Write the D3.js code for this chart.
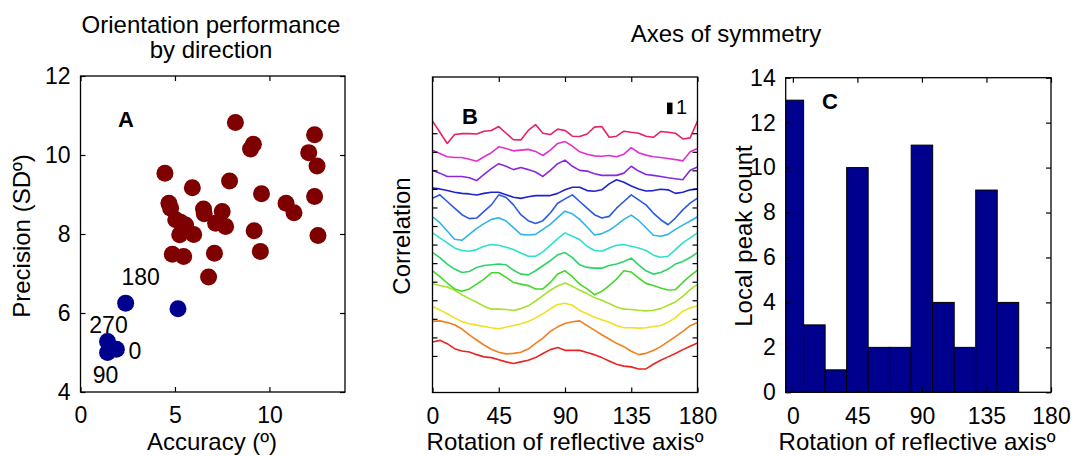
<!DOCTYPE html>
<html lang="en">
<head>
<meta charset="UTF-8">
<title>Orientation performance and axes of symmetry</title>
<script src="https://d3js.org/d3.v7.min.js"></script>
<style>
  body { margin: 0; background: #fff; }
  svg { display: block; font-family: "Liberation Sans", Arial, sans-serif; }
  .tick text { font-size: 23px; fill: #000; }
  .domain { display: none; }
  .tick line { stroke: #000; stroke-width: 1.2; }
  .lbl { font-size: 24px; fill: #000; }
  .panel { font-size: 22px; font-weight: bold; }
</style>
</head>
<body>
<div id="chart"></div>
<script>
// ---- A: accuracy vs precision per direction ----
const accRed = [8.2, 12.39, 9.0, 9.15, 12.08, 12.52, 4.47, 7.89, 5.92, 9.58, 12.39, 4.68, 4.77, 6.51, 6.55, 7.5,
  10.88, 11.3, 5.04, 5.3, 5.56, 7.15, 7.68, 5.25, 5.99, 9.19, 12.57, 4.86, 5.46, 7.09, 9.52, 6.78];
const precRed = [10.82, 10.51, 10.15, 10.27, 10.06, 9.72, 9.54, 9.34, 9.17, 9.02, 8.95, 8.78, 8.65, 8.63, 8.51, 8.57,
  8.78, 8.54, 8.36, 8.3, 8.23, 8.27, 8.19, 7.98, 7.99, 8.08, 7.96, 7.49, 7.43, 7.51, 7.56, 6.91];
const accBlue = [2.39, 5.16, 1.43, 1.9, 1.43];
const precBlue = [6.25, 6.11, 5.28, 5.08, 5.0];
const blueNames = ["180", "", "270", "0", "90"];

// ---- B: correlation vs rotation, one curve per row (bottom to top) ----
const angles = d3.range(0, 181, 5);
const corr = [
  [0.75,0.84,0.66,0.39,0.27,0.21,0.07,-0.05,-0.09,-0.2,-0.32,-0.41,-0.32,-0.23,-0.09,0.13,0.34,0.45,0.3,0.3,0.3,0.18,0.07,-0.09,-0.27,-0.45,-0.55,-0.59,-0.7,-0.7,-0.45,-0.23,-0.05,0.13,0.34,0.52,0.7],
  [0.86,0.89,0.8,0.68,0.45,0.14,-0.14,-0.41,-0.64,-0.8,-0.89,-0.86,-0.8,-0.63,-0.32,-0.04,0.32,0.57,0.75,0.84,0.89,0.63,0.39,0.14,-0.09,-0.32,-0.5,-0.75,-0.93,-0.86,-0.71,-0.5,-0.23,0.04,0.32,0.63,0.8],
  [0.66,0.48,0.27,0.05,-0.14,-0.27,-0.34,-0.41,-0.48,-0.54,-0.45,-0.36,-0.27,-0.14,0.05,0.27,0.54,0.77,0.84,0.73,0.45,0.27,0.09,-0.05,-0.18,-0.36,-0.48,-0.48,-0.5,-0.48,-0.41,-0.36,-0.18,0.05,0.41,0.59,0.71],
  [0.89,0.8,0.71,0.54,0.3,0.09,-0.11,-0.32,-0.48,-0.48,-0.5,-0.55,-0.45,-0.3,-0.04,0.25,0.54,0.77,0.93,0.75,0.54,0.36,0.14,0,-0.18,-0.36,-0.48,-0.5,-0.54,-0.57,-0.54,-0.45,-0.27,-0.09,0.21,0.57,0.86],
  [0.59,0.27,-0.07,-0.39,-0.52,-0.39,-0.13,0.14,0.48,0.48,0.23,-0.04,-0.13,-0.21,-0.39,-0.39,-0.04,0.41,0.59,0.27,-0.13,-0.39,-0.7,-0.52,-0.21,0.14,0.59,0.52,0.2,-0.09,-0.21,-0.34,-0.45,-0.43,-0.04,0.32,0.63],
  [0.57,0.3,-0.05,-0.32,-0.5,-0.45,-0.23,-0.13,-0.09,-0.05,-0.09,-0.38,-0.59,-0.63,-0.41,-0.14,0.13,0.45,0.57,0.3,-0.09,-0.23,-0.27,-0.27,-0.13,-0.05,0.09,0.27,-0.09,-0.41,-0.59,-0.5,-0.32,-0.05,0.09,0.3,0.57],
  [0.63,0.36,0.09,-0.18,-0.32,-0.36,-0.27,-0.09,0,-0.04,-0.14,-0.27,-0.45,-0.63,-0.63,-0.39,-0.04,0.32,0.63,0.45,0.27,-0.09,-0.32,-0.36,-0.18,-0.04,0,-0.09,-0.18,-0.32,-0.57,-0.68,-0.63,-0.27,0.09,0.36,0.63],
  [0.5,0.18,-0.27,-0.71,-0.77,-0.45,-0.13,0.13,0.36,0.45,0.27,-0.09,-0.45,-0.48,-0.45,-0.18,0.09,0.45,0.8,0.66,0.36,-0.05,-0.48,-0.41,-0.23,0.05,0.36,0.59,0.3,-0.09,-0.5,-0.55,-0.45,-0.18,0.05,0.27,0.5],
  [0.5,0.68,0.32,-0.04,-0.39,-0.6,-0.57,-0.21,0.14,0.68,0.54,0.14,-0.39,-0.71,-0.86,-0.71,-0.3,0.23,0.46,0.68,0.32,-0.04,-0.39,-0.57,-0.48,-0.04,0.32,0.68,0.41,0.14,-0.3,-0.66,-0.93,-0.57,-0.13,0.23,0.5],
  [0.05,0,-0.09,-0.18,-0.24,-0.27,-0.33,-0.24,-0.18,-0.18,-0.31,-0.45,-0.51,-0.42,-0.36,-0.36,-0.36,-0.24,-0.05,0.09,0.09,-0.09,-0.13,-0.05,0.27,0.49,0.36,0.16,0,-0.11,-0.09,-0.02,-0.05,-0.24,-0.18,-0.05,0],
  [0,-0.15,-0.33,-0.33,-0.33,-0.4,-0.55,-0.22,0.09,0.36,0.22,0.04,0.15,0.04,-0.09,-0.33,0,0.36,0.55,0.22,0,-0.04,-0.18,-0.27,-0.27,-0.27,-0.15,0.22,-0.04,-0.22,-0.27,-0.33,-0.4,-0.45,-0.51,0,0.18],
  [0.09,-0.09,-0.27,-0.31,-0.31,-0.4,-0.51,-0.27,-0.05,0.27,0.18,0.05,0.09,0.13,0.02,-0.2,0.09,0.45,0.55,0.31,0,-0.13,-0.22,-0.24,-0.2,-0.27,-0.13,0.22,-0.05,-0.18,-0.27,-0.31,-0.36,-0.42,-0.49,0,0.18],
  [0.65,0.05,-0.55,-0.07,-0.02,-0.02,-0.04,0.11,0.15,0.36,0,-0.35,-0.36,0.15,0.47,0,-0.07,0.22,0.15,-0.16,-0.18,-0.04,0.33,0.36,-0.22,-0.16,0.11,0.05,0,-0.16,-0.22,0.09,0.05,0,-0.31,-0.25,0.65]
];
const curveColors = ["#e82424", "#f0801e", "#f0e020", "#a8e02c", "#44d82c", "#2cd468", "#2ee0cc",
  "#2cb4ee", "#2a5ae0", "#2222cc", "#8a28e0", "#e030d4", "#e8206a"];
const scaleBarUnits = 0.62;

// ---- C: local peak histogram ----
const binCenters = [0, 15, 30, 45, 60, 75, 90, 105, 120, 135, 150];
const peakCounts = [13, 3, 1, 10, 2, 2, 11, 4, 2, 9, 4];
const binWidth = 15;

const svg = d3.select("#chart").append("svg").attr("width", 1076).attr("height", 456);

// draw a matlab-like box with inward ticks on all four sides
function frame(x, y, xt, yt, labelX, labelY, padX, padY) {
  const [x0, x1] = x.range(), [y0, y1] = y.range();
  const g = svg.append("g");
  g.append("g").attr("transform", `translate(0,${y0})`)
    .call(d3.axisBottom(x).tickValues(xt).tickSizeInner(-5).tickSizeOuter(0).tickPadding(padX)
      .tickFormat(labelX ? d3.format("d") : ""));
  g.append("g").attr("transform", `translate(0,${y1})`)
    .call(d3.axisTop(x).tickValues(xt).tickSizeInner(-5).tickSizeOuter(0).tickFormat(""));
  g.append("g").attr("transform", `translate(${x0},0)`)
    .call(d3.axisLeft(y).tickValues(yt).tickSizeInner(-5).tickSizeOuter(0).tickPadding(padY)
      .tickFormat(labelY ? d3.format("d") : ""));
  g.append("g").attr("transform", `translate(${x1},0)`)
    .call(d3.axisRight(y).tickValues(yt).tickSizeInner(-5).tickSizeOuter(0).tickFormat(""));
  g.append("rect").attr("x", x0).attr("y", y1).attr("width", x1 - x0).attr("height", y0 - y1)
    .attr("fill", "none").attr("stroke", "#000").attr("stroke-width", 1.3);
  return g;
}

// ---------- panel A ----------
const xA = d3.scaleLinear([0, 14], [80.5, 345]);
const yA = d3.scaleLinear([4, 12], [392, 76]);

const dotsA = svg.append("g");
dotsA.selectAll(".r").data(accRed).join("circle")
  .attr("cx", d => xA(d)).attr("cy", (d, i) => yA(precRed[i])).attr("r", 8.5).attr("fill", "#7f0000");
dotsA.selectAll(".b").data(accBlue).join("circle")
  .attr("cx", d => xA(d)).attr("cy", (d, i) => yA(precBlue[i])).attr("r", 8.5).attr("fill", "#00008f");

frame(xA, yA, [0, 5, 10], [4, 6, 8, 10, 12], true, true, 15, 10);

// direction labels, offset from their point
const nameOff = [[15, -18, "middle"], [0, 0, "middle"], [1, -8, "middle"], [12, 10, "start"], [-2, 30, "middle"]];
svg.append("g").selectAll("text").data(blueNames).join("text")
  .attr("x", (d, i) => xA(accBlue[i]) + nameOff[i][0])
  .attr("y", (d, i) => yA(precBlue[i]) + nameOff[i][1])
  .attr("text-anchor", (d, i) => nameOff[i][2])
  .attr("font-size", 23).text(d => d);

svg.append("text").attr("class", "panel").attr("x", 118).attr("y", 127).text("A");
svg.append("text").attr("class", "lbl").attr("x", 211).attr("y", 33).attr("text-anchor", "middle").text("Orientation performance");
svg.append("text").attr("class", "lbl").attr("x", 211).attr("y", 58).attr("text-anchor", "middle").text("by direction");
svg.append("text").attr("class", "lbl").attr("x", 212).attr("y", 450).attr("text-anchor", "middle").text("Accuracy (º)");
svg.append("text").attr("class", "lbl").attr("text-anchor", "middle")
  .attr("transform", "translate(30,236) rotate(-90)").text("Precision (SDº)");

// ---------- panel B ----------
const xB = d3.scaleLinear([0, 180], [432.5, 697.5]);
const yB = d3.scaleLinear([-0.97, 16.03], [392.5, 77]);
const rows = d3.range(1, corr.length + 1);

const line = d3.line().x((d, i) => xB(angles[i]));
svg.append("g").selectAll("path").data(corr).join("path")
  .attr("d", (c, j) => line.y(v => yB(rows[j] + v))(c))
  .attr("fill", "none").attr("stroke", (c, j) => curveColors[j]).attr("stroke-width", 1.6)
  .attr("stroke-linejoin", "round");

frame(xB, yB, [0, 45, 90, 135, 180], rows, true, false, 15, 10);

const barTop = 14.65;
svg.append("rect").attr("x", 667).attr("y", yB(barTop)).attr("width", 5.5)
  .attr("height", yB(barTop - scaleBarUnits) - yB(barTop)).attr("fill", "#000");
svg.append("text").attr("x", 676).attr("y", yB(barTop - scaleBarUnits)).attr("font-size", 20).text("1");
svg.append("text").attr("class", "panel").attr("x", 462).attr("y", 124).text("B");
svg.append("text").attr("class", "lbl").attr("x", 726).attr("y", 42).attr("text-anchor", "middle").text("Axes of symmetry");
svg.append("text").attr("class", "lbl").attr("x", 565).attr("y", 450).attr("text-anchor", "middle").text("Rotation of reflective axisº");
svg.append("text").attr("class", "lbl").attr("text-anchor", "middle")
  .attr("transform", "translate(410,236) rotate(-90)").text("Correlation");

// ---------- panel C ----------
const xC = d3.scaleLinear([-5, 180], [785.7, 1051]);
const yC = d3.scaleLinear([0, 14], [392.3, 77.7]);

svg.append("clipPath").attr("id", "clipC").append("rect")
  .attr("x", 785.7).attr("y", 77.7).attr("width", 1051 - 785.7).attr("height", 392.3 - 77.7);
svg.append("g").attr("clip-path", "url(#clipC)").selectAll("rect").data(peakCounts).join("rect")
  .attr("x", (d, i) => xC(binCenters[i] - binWidth / 2))
  .attr("width", xC(binWidth) - xC(0))
  .attr("y", d => yC(d)).attr("height", d => yC(0) - yC(d))
  .attr("fill", "#00008f").attr("stroke", "#000").attr("stroke-width", 1);

frame(xC, yC, [0, 45, 90, 135, 180], d3.range(0, 15, 2), true, true, 15, 10);

svg.append("text").attr("class", "panel").attr("x", 822).attr("y", 109).text("C");
svg.append("text").attr("class", "lbl").attr("x", 917).attr("y", 450).attr("text-anchor", "middle").text("Rotation of reflective axisº");
svg.append("text").attr("class", "lbl").attr("text-anchor", "middle")
  .attr("transform", "translate(752,236) rotate(-90)").text("Local peak count");
</script>
</body>
</html>
